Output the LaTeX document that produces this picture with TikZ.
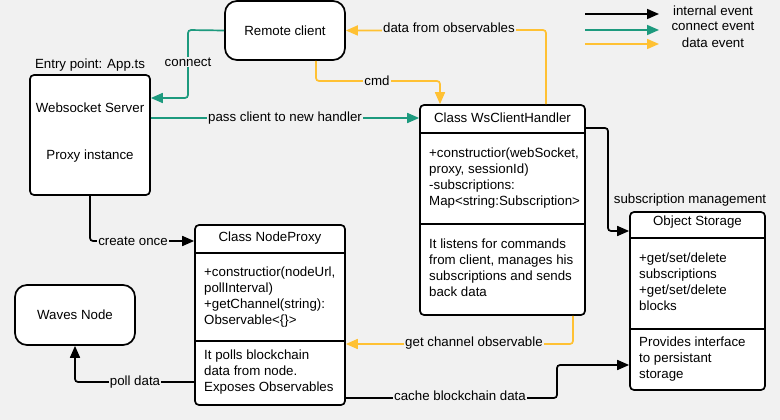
\documentclass[tikz,border=0pt]{standalone}
\usepackage{fontspec}
\setmainfont{Liberation Sans}
\usetikzlibrary{arrows.meta}
\definecolor{bg}{RGB}{241,241,241}
\definecolor{tealc}{RGB}{29,154,126}
\definecolor{goldc}{RGB}{255,193,51}
\begin{document}
\begin{tikzpicture}[x=1pt,y=-1pt,
  font=\fontsize{13.3}{16}\selectfont,
  box/.style={draw=black, line width=1.7pt, fill=white, rounded corners=4pt, inner sep=0pt},
  rbox/.style={box, rounded corners=12pt},
  divider/.style={line width=1.4pt},
  sec/.style={anchor=north west, align=left, inner sep=0pt},
  ln/.style={line width=1.7pt, rounded corners=3pt},
  internal/.style={ln, draw=black, -{Triangle[length=12pt,width=10pt]}},
  connectev/.style={ln, draw=tealc, -{Triangle[length=12pt,width=10pt]}},
  dataev/.style={ln, draw=goldc, -{Triangle[length=12pt,width=10pt]}},
  lbl/.style={fill=bg, inner sep=1pt},
]
\fill[bg] (0,0) rectangle (780,420);
\useasboundingbox (0,0) rectangle (780,420);

% Remote client
\node[rbox, minimum width=120pt, minimum height=59pt] (rc) at (285,30.5) {Remote client};

% Websocket server
\node (entry) at (90,65) {Entry point: App.ts};
\node[box, minimum width=120pt, minimum height=120pt] (ws) at (90,135) {};
\node (wsA) at (90,108) {Websocket Server};
\node (wsB) at (90,156) {Proxy instance};

% WsClientHandler
\node[box, minimum width=165pt, minimum height=210pt] (wch) at (502.5,210) {};
\draw[divider] (wch.west |- 0,133) -- (wch.east |- 0,133);
\draw[divider] (wch.west |- 0,224) -- (wch.east |- 0,224);
\node (wchT) at (502.5,118) {Class WsClientHandler};
\node[sec] (wchA) at (429,147.5) {+constructior(webSocket,\\proxy, sessionId)\\-subscriptions:\\Map<string:Subscription>};
\node[sec] (wchB) at (429,238.5) {It listens for commands\\from client, manages his\\subscriptions and sends\\back data};

% Object Storage
\node (osl) at (690,200) {subscription management};
\node[box, minimum width=135pt, minimum height=178pt] (os) at (697.5,301) {};
\draw[divider] (os.west |- 0,238) -- (os.east |- 0,238);
\draw[line width=2.4pt] (os.west |- 0,329) -- (os.east |- 0,329);
\node (osT) at (697.5,222) {Object Storage};
\node[sec] (osA) at (639,252.5) {+get/set/delete\\subscriptions\\+get/set/delete\\blocks};
\node[sec] (osB) at (639,336.5) {Provides interface\\to persistant\\storage};

% NodeProxy
\node[box, minimum width=150pt, minimum height=180pt] (np) at (270,315) {};
\draw[divider] (np.west |- 0,253) -- (np.east |- 0,253);
\draw[divider] (np.west |- 0,341) -- (np.east |- 0,341);
\node (npT) at (270,238) {Class NodeProxy};
\node[sec] (npA) at (204,266.5) {+constructior(nodeUrl,\\pollInterval)\\+getChannel(string):\\Observable<\{\}>};
\node[sec] (npB) at (204,349.5) {It polls blockchain\\data from node.\\Exposes Observables};

% Waves node
\node[rbox, minimum width=120pt, minimum height=60pt] (wn) at (75,315) {Waves Node};

% Connectors
\draw[connectev] (rc.west) -- (188,30) -- (188,98) -- (ws.east |- 0,98);
\node[lbl] (lconnect) at (188,62) {connect};

\draw[dataev] ([xshift=31pt]rc.south) -- (316,81) -- (440,81) -- (wch.north -| 440,0);
\node[lbl] (lcmd) at (377,81) {cmd};

\draw[dataev] (wch.north -| 546,0) -- (546,30) -- (rc.east);
\node[lbl] (ldata) at (449,28) {data from observables};

\draw[connectev] (ws.east |- 0,118) -- (wch.west |- 0,118);
\node[lbl] (lpass) at (285,118) {pass client to new handler};

\draw[internal] (wch.east |- 0,128) -- (608,128) -- (608,231) -- (os.west |- 0,231);

\draw[internal] (ws.south) -- (90,241) -- (np.west |- 0,241);
\node[lbl] (lcreate) at (133,241) {create once};

\draw[internal] (np.west |- 0,382) -- (75,382) -- (wn.south);
\node[lbl] (lpoll) at (135,382) {poll data};

\draw[dataev] (wch.south -| 573,0) -- (573,344) -- (np.east |- 0,344);
\node[lbl] (lget) at (474,343) {get channel observable};

\draw[internal] (np.east |- 0,398) -- (557,398) -- (557,365) -- (os.west |- 0,365);
\node[lbl] (lcache) at (460,396) {cache blockchain data};

% Legend
\coordinate (k1a) at (585,14); \coordinate (k1b) at (659,14);
\coordinate (k2a) at (585,30); \coordinate (k2b) at (659,30);
\coordinate (k3a) at (585,44); \coordinate (k3b) at (659,44);
\draw[internal] (k1a) -- (k1b);
\draw[connectev] (k2a) -- (k2b);
\draw[dataev] (k3a) -- (k3b);
\node (kl1) at (713,10.5) {internal event};
\node (kl2) at (713,26.5) {connect event};
\node (kl3) at (713,42.5) {data event};
\end{tikzpicture}
\end{document}
